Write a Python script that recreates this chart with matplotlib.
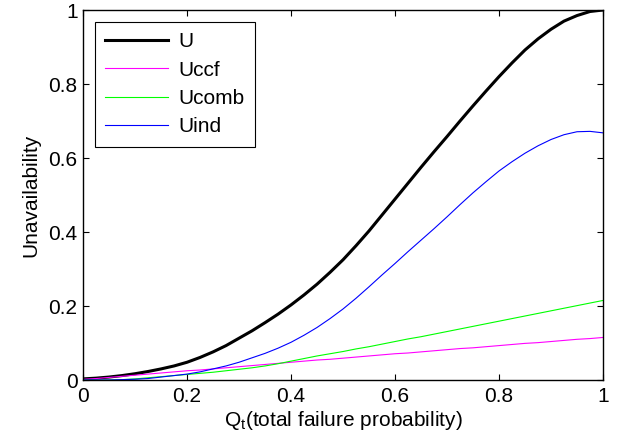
import matplotlib
matplotlib.use("Agg")
import matplotlib.pyplot as plt

plt.rcParams['font.family'] = ['Liberation Sans', 'DejaVu Sans']

q = [0.0, 0.025, 0.05, 0.075, 0.1, 0.125, 0.15, 0.175, 0.2, 0.225,
     0.25, 0.275, 0.3, 0.325, 0.35, 0.375, 0.4, 0.425, 0.45, 0.475,
     0.5, 0.525, 0.55, 0.575, 0.6, 0.625, 0.65, 0.675, 0.7, 0.725,
     0.75, 0.775, 0.8, 0.825, 0.85, 0.875, 0.9, 0.925, 0.95, 0.975, 1.0]
U = [0.003, 0.005, 0.008, 0.012, 0.017, 0.023, 0.030, 0.038, 0.048, 0.061,
     0.076, 0.093, 0.113, 0.133, 0.155, 0.178, 0.203, 0.230, 0.259, 0.291,
     0.325, 0.363, 0.403, 0.446, 0.489, 0.532, 0.575, 0.617, 0.658, 0.700,
     0.741, 0.781, 0.820, 0.857, 0.892, 0.922, 0.948, 0.970, 0.985, 0.996, 1.0]
Uccf = [0.002, 0.004, 0.007, 0.010, 0.013, 0.016, 0.019, 0.022, 0.025, 0.027,
        0.030, 0.033, 0.036, 0.039, 0.042, 0.045, 0.048, 0.051, 0.054, 0.056,
        0.059, 0.062, 0.065, 0.068, 0.071, 0.073, 0.076, 0.079, 0.082, 0.085,
        0.087, 0.090, 0.093, 0.096, 0.099, 0.101, 0.104, 0.107, 0.110, 0.112, 0.115]
Ucomb = [0.0, 0.0, 0.0, 0.001, 0.003, 0.006, 0.009, 0.012, 0.015, 0.018,
         0.021, 0.025, 0.029, 0.033, 0.038, 0.044, 0.051, 0.058, 0.065, 0.071,
         0.077, 0.084, 0.090, 0.097, 0.104, 0.111, 0.117, 0.124, 0.131, 0.138,
         0.145, 0.152, 0.159, 0.166, 0.173, 0.180, 0.187, 0.194, 0.201, 0.208, 0.215]
Uind = [0.0, 0.0, 0.0, 0.001, 0.002, 0.004, 0.008, 0.012, 0.016, 0.022,
        0.030, 0.038, 0.048, 0.060, 0.072, 0.086, 0.102, 0.121, 0.142, 0.166,
        0.192, 0.221, 0.252, 0.284, 0.315, 0.347, 0.378, 0.409, 0.441, 0.474,
        0.506, 0.536, 0.565, 0.590, 0.613, 0.633, 0.650, 0.663, 0.671, 0.672, 0.668]

xticks = [0, 0.2, 0.4, 0.6, 0.8, 1]
xticklabels = ['0', '0.2', '0.4', '0.6', '0.8', '1']
yticks = [0, 0.2, 0.4, 0.6, 0.8, 1]
yticklabels = ['0', '0.2', '0.4', '0.6', '0.8', '1']

fig = plt.figure(figsize=(6.2, 4.43), dpi=100)
ax = fig.add_axes([0.134, 0.1422, 0.8386, 0.8352])

ax.plot(q, U, color='black', lw=2.2, label='U')
ax.plot(q, Uccf, color=(1, 0, 1), lw=0.8, label='Uccf')
ax.plot(q, Ucomb, color=(0, 1, 0), lw=0.8, label='Ucomb')
ax.plot(q, Uind, color=(0, 0, 1), lw=0.8, label='Uind')

ax.set_xlim(0, 1)
ax.set_ylim(0, 1)
ax.set_xticks(xticks)
ax.set_xticklabels(xticklabels)
ax.set_yticks(yticks)
ax.set_yticklabels(yticklabels)
ax.tick_params(direction='in', top=True, right=True, labelsize=15, length=4, width=0.8)
ax.tick_params(axis='x', pad=5)
ax.tick_params(axis='y', pad=4)
for s in ax.spines.values():
    s.set_linewidth(1.0)

ax.set_xlabel('Q$_\\mathregular{t}$(total failure probability)', fontsize=15, labelpad=2)
ax.set_ylabel('Unavailability', fontsize=15, labelpad=6)

leg = ax.legend(loc='upper left', fontsize=15, handlelength=3.0, fancybox=False,
                edgecolor='black', framealpha=1, borderaxespad=0.57, labelspacing=0.45,
                handletextpad=0.5, borderpad=0.5)
leg.get_frame().set_linewidth(0.8)

fig.savefig('out.png', dpi=100)
